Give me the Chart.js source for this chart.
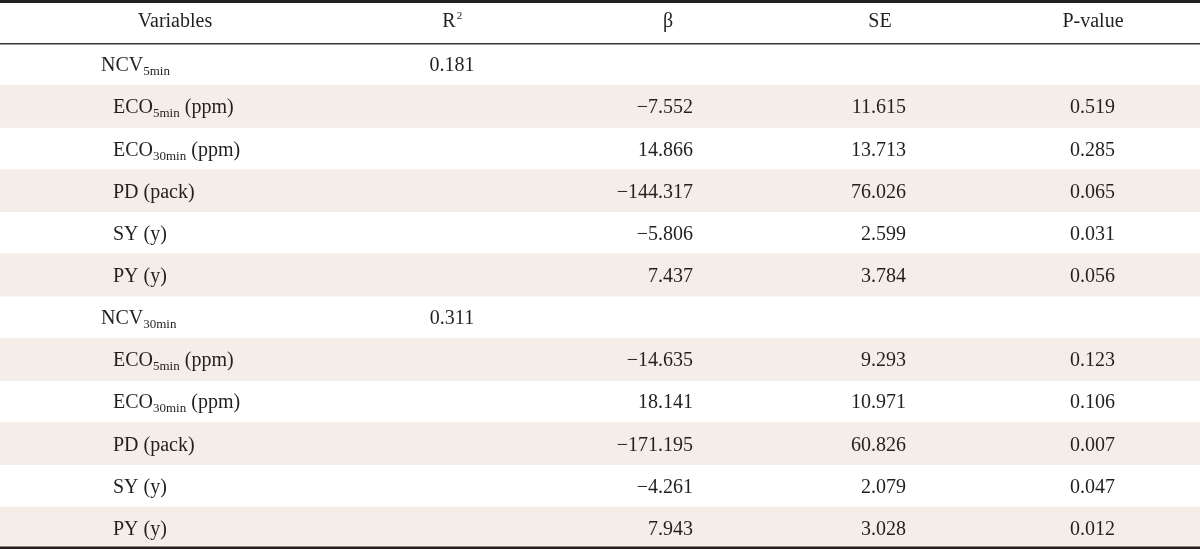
<!DOCTYPE html>
<html>
<head>
<meta charset="utf-8">
<script src="https://cdn.jsdelivr.net/npm/chart.js@4/dist/chart.umd.min.js"></script>
<style>
  body { margin: 0; background: #fff; }
  #wrap { width: 1200px; height: 549px; position: relative; }
</style>
</head>
<body>
<div id="wrap"><canvas id="tableChart"></canvas></div>
<script>
// table content, {..} marks a subscript
const headers = ['Variables', 'R^2', 'β', 'SE', 'P-value'];
const variables = [
    'NCV{5min}', 'ECO{5min} (ppm)', 'ECO{30min} (ppm)', 'PD (pack)', 'SY (y)', 'PY (y)',
    'NCV{30min}', 'ECO{5min} (ppm)', 'ECO{30min} (ppm)', 'PD (pack)', 'SY (y)', 'PY (y)'
];
const rSquared = [0.181, null, null, null, null, null, 0.311, null, null, null, null, null];
const beta = [null, -7.552, 14.866, -144.317, -5.806, 7.437, null, -14.635, 18.141, -171.195, -4.261, 7.943];
const se = [null, 11.615, 13.713, 76.026, 2.599, 3.784, null, 9.293, 10.971, 60.826, 2.079, 3.028];
const pValues = [null, 0.519, 0.285, 0.065, 0.031, 0.056, null, 0.123, 0.106, 0.007, 0.047, 0.012];

const textColor = '#231f20';
const stripeColor = '#f5ede7';
const font = '"Liberation Serif", "Times New Roman", serif';

function fmt(v) {
    if (v === null) return '';
    return v.toFixed(3).replace('-', '\u2212');
}

// draws "ABC{sub} tail" with a smaller lowered subscript
function drawRich(ctx, text, x, baseline) {
    const parts = text.split(/[{}]/);
    let cx = x;
    parts.forEach((p, i) => {
        if (i % 2 === 1) {
            ctx.font = '13px ' + font;
            ctx.fillText(p, cx, baseline + 4);
        } else {
            ctx.font = '20px ' + font;
            ctx.fillText(p, cx, baseline);
        }
        cx += ctx.measureText(p).width;
    });
}

const rowLabels = ['header'].concat(variables.map((v, i) => 'r' + i));
const stripes = [null].concat(variables.map((v, i) => i % 2 === 1 ? [0, 1200] : null));

const tablePlugin = {
    id: 'tableText',
    afterDatasetsDraw(chart) {
        const ctx = chart.ctx;
        const xs = chart.scales.x;
        const ys = chart.scales.y;
        const W = chart.width;
        ctx.save();
        ctx.fillStyle = textColor;
        ctx.textBaseline = 'alphabetic';

        // header row
        const hb = ys.getPixelForValue(0) + 5;
        const headX = [175, 452, 668, 880, 1093];
        ctx.textAlign = 'center';
        headers.forEach((h, i) => {
            const px = xs.getPixelForValue(headX[i]);
            if (h === 'R^2') {
                ctx.font = '20px ' + font;
                const w = ctx.measureText('R').width;
                ctx.fillText('R', px - 3, hb);
                ctx.font = '11px ' + font;
                ctx.textAlign = 'left';
                ctx.fillText('2', px - 3 + w / 2 + 1, hb - 8);
                ctx.textAlign = 'center';
            } else {
                ctx.font = '20px ' + font;
                ctx.fillText(h, px, hb);
            }
        });

        // body rows
        variables.forEach((v, i) => {
            const b = ys.getPixelForValue(i + 1) + 7;
            const group = rSquared[i] !== null;
            ctx.textAlign = 'left';
            drawRich(ctx, v, xs.getPixelForValue(group ? 101 : 113), b);
            ctx.font = '20px ' + font;
            if (group) {
                ctx.textAlign = 'center';
                ctx.fillText(fmt(rSquared[i]), xs.getPixelForValue(452), b);
            }
            ctx.textAlign = 'right';
            ctx.fillText(fmt(beta[i]), xs.getPixelForValue(693), b);
            ctx.fillText(fmt(se[i]), xs.getPixelForValue(906), b);
            ctx.fillText(fmt(pValues[i]), xs.getPixelForValue(1115), b);
        });

        // rules
        const headLine = Math.round((ys.getPixelForValue(0) + ys.getPixelForValue(1)) / 2);
        ctx.fillStyle = textColor;
        ctx.fillRect(0, 0, W, 3);
        ctx.fillStyle = '#3a3637';
        ctx.fillRect(0, headLine, W, 1.5);
        ctx.fillStyle = textColor;
        ctx.fillRect(0, chart.height - 2.5, W, 2.5);
        ctx.restore();
    }
};

new Chart(document.getElementById('tableChart'), {
    type: 'bar',
    data: {
        labels: rowLabels,
        datasets: [{
            data: stripes,
            backgroundColor: stripeColor,
            borderWidth: 0,
            barPercentage: 1,
            categoryPercentage: 1
        }]
    },
    options: {
        indexAxis: 'y',
        responsive: true,
        maintainAspectRatio: false,
        animation: false,
        layout: { padding: { top: 1, bottom: 0, left: 0, right: 0 } },
        scales: {
            x: { type: 'linear', min: 0, max: 1200, display: false },
            y: { type: 'category', display: false }
        },
        plugins: {
            legend: { display: false },
            tooltip: { enabled: false }
        }
    },
    plugins: [tablePlugin]
});
</script>
</body>
</html>
